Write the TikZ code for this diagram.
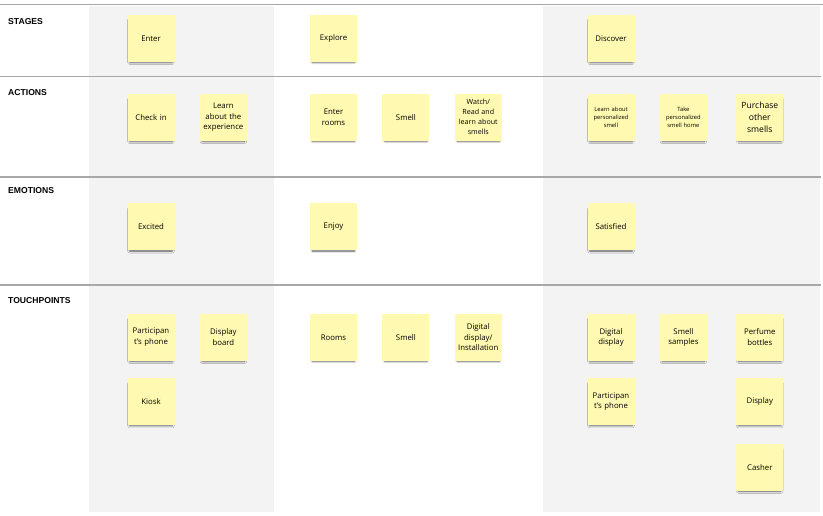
\documentclass[tikz,border=0pt]{standalone}
\usepackage{fontspec}
\setmainfont{Open Sans}
\newfontfamily\lanefont{Liberation Sans}
\usetikzlibrary{positioning, shadows.blur}
\definecolor{noteYellow}{RGB}{255, 249, 177}
\definecolor{laneGray}{RGB}{243, 243, 243}
\definecolor{ruleGray}{RGB}{168, 168, 168}

\begin{document}
\begin{tikzpicture}[
    x=1pt, y=-1pt,
    node distance=17pt and 25pt,
    note/.style={rectangle, fill=noteYellow, minimum width=47pt,
                 minimum height=47pt, inner sep=1pt, text width=45pt,
                 align=center, font=\fontsize{7.8}{10.5}\selectfont,
                 blur shadow={shadow xshift=0pt, shadow yshift=-3.2pt,
                              shadow blur radius=2.4pt, shadow scale=0.9,
                              shadow opacity=65}},
    tiny/.style={font=\fontsize{5.8}{8.3}\selectfont},
    mid/.style={font=\fontsize{7.1}{10}\selectfont},
    big/.style={font=\fontsize{8.6}{12.2}\selectfont},
    lane/.style={anchor=west, inner sep=0pt,
                 font=\lanefont\bfseries\fontsize{8.6}{10}\selectfont},
    rule/.style={draw=ruleGray, line width=1.1pt}
  ]
    \useasboundingbox (0,0) rectangle (823,516);

    % Shaded columns and row rules
    \fill[laneGray] (89,6) rectangle (274,512);
    \fill[laneGray] (543,6) rectangle (820,512);
    \draw[rule] (0,4.5) -- (823,4.5);
    \draw[rule] (0,76.5) -- (821,76.5);
    \draw[rule] (0,177) -- (821,177);
    \draw[rule] (0,285) -- (821,285);

    % Row labels
    \node[lane] (LSTG) at (8,22) {STAGES};
    \node[lane] (LACT) at (8,93) {ACTIONS};
    \node[lane] (LEMO) at (8,190.7) {EMOTIONS};
    \node[lane] (LTCH) at (8,300.7) {TOUCHPOINTS};

    % Stages
    \node[note] (ENTER) at (151,38.3) {Enter};
    \node[note] (EXPL) at (333.5,38.3) {Explore};
    \node[note] (DISC) at (611,38.3) {Discover};

    % Actions
    \node[note] (CHK) at (151,117.3) {Check in};
    \node[note, right=of CHK] (LEXP) {Learn\\about the\\experience};
    \node[note] (ROOMS) at (333.5,117.3) {Enter\\rooms};
    \node[note, right=of ROOMS] (SMELL) {Smell};
    \node[note, mid, right=of SMELL] (WATCH) {Watch/\\Read and\\learn about\\smells};
    \node[note, tiny] (LPERS) at (611,117.3) {Learn about\\personalized\\smell};
    \node[note, tiny, right=of LPERS] (TAKE) {Take\\personalized\\smell home};
    \node[note, big, right=29pt of TAKE] (BUY) {Purchase\\other\\smells};

    % Emotions
    \node[note] (EXC) at (151,227) {Excited};
    \node[note] (ENJ) at (333.5,227) {Enjoy};
    \node[note] (SAT) at (611,227) {Satisfied};

    % Touchpoints
    \node[note] (PHONE) at (151,337.3) {Participan\\t's phone};
    \node[note, right=of PHONE] (BOARD) {Display\\board};
    \node[note, below=of PHONE] (KIOSK) {Kiosk};
    \node[note] (TROOM) at (333.5,337.3) {Rooms};
    \node[note, right=of TROOM] (TSMELL) {Smell};
    \node[note, right=of TSMELL] (INST) {Digital\\display/\\Installation};
    \node[note] (DIGI) at (611,337.3) {Digital\\display};
    \node[note, right=of DIGI] (SAMP) {Smell\\samples};
    \node[note, right=29pt of SAMP] (PERF) {Perfume\\bottles};
    \node[note, below=of DIGI] (PHONE2) {Participan\\t's phone};
    \node[note, below=of PERF] (DISP) {Display};
    \node[note, below=18pt of DISP] (CASH) {Casher};
  \end{tikzpicture}
\end{document}
